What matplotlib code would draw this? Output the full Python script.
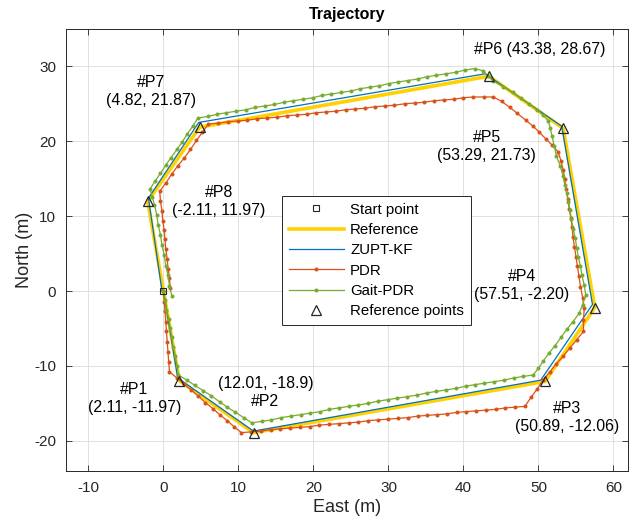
import matplotlib
matplotlib.use("Agg")
import matplotlib.pyplot as plt

plt.rcParams['font.family'] = ['Liberation Sans', 'DejaVu Sans']
plt.rcParams['axes.unicode_minus'] = False

# reference path (start -> P1 ... P8 -> start)
ref_x = [0.0, 2.11, 12.01, 50.89, 57.51, 53.29, 43.38, 4.82, -2.11, 0.0]
ref_y = [0.0, -11.97, -18.9, -12.06, -2.20, 21.73, 28.67, 21.87, 11.97, 0.0]

# ZUPT-KF estimate
zupt_x = [0.0, 1.9, 12.0, 50.3, 57.2, 53.1, 42.9, 4.7, -2.0, -0.2]
zupt_y = [0.0, -11.6, -18.7, -11.9, -1.8, 22.0, 29.0, 22.5, 12.4, 0.0]

# PDR steps
pdr_x = [0.0, 0.1, 0.2, 0.3, 0.4, 0.5, 0.6, 0.7, 0.8,
         1.8, 2.7, 3.7, 4.6, 5.6, 6.6, 7.5, 8.5, 9.4, 10.4,
         11.7, 13.0, 14.3, 15.6, 16.9, 18.2, 19.5, 20.8, 22.1, 23.4,
         24.7, 26.0, 27.3, 28.6, 30.0, 31.3, 32.6, 33.9, 35.2, 36.5,
         37.8, 39.1, 40.4, 41.7, 43.0, 44.3, 45.6, 46.9, 48.2,
         49.0, 49.8, 50.6,
         51.5, 52.4, 53.3, 54.2, 55.1, 56.0,
         56.0, 56.1,
         55.9, 55.6, 55.4,
         55.2, 55.0, 54.8, 54.6, 54.5, 54.3, 54.1, 53.9, 53.7, 53.5, 53.3,
         53.0, 52.6,
         51.8, 51.0, 50.1, 49.3,
         48.3, 47.2, 46.2, 45.1,
         44.0,
         42.7, 41.3,
         40.0, 38.7, 37.4, 36.1, 34.8, 33.5, 32.2, 30.8, 29.5, 28.2,
         26.9, 25.6, 24.3, 23.0, 21.7, 20.4, 19.1, 17.8, 16.5, 15.2,
         13.8, 12.5, 11.2, 9.9, 8.6, 7.3, 6.0,
         5.2, 4.4, 3.6, 2.8, 1.9, 1.1, 0.3, -0.5,
         -0.4, -0.2, -0.1, 0.1, 0.2, 0.3, 0.5, 0.6, 0.8, 0.9]
pdr_y = [0.0, -1.4, -2.7, -4.1, -5.4, -6.8, -8.1, -9.5, -10.8,
         -11.6, -12.4, -13.2, -14.0, -14.9, -15.7, -16.5, -17.3, -18.1, -18.9,
         -18.8, -18.7, -18.5, -18.4, -18.3, -18.2, -18.1, -17.9, -17.8, -17.7,
         -17.6, -17.5, -17.3, -17.2, -17.1, -17.0, -16.9, -16.7, -16.6, -16.5,
         -16.4, -16.2, -16.1, -16.0, -15.9, -15.8, -15.6, -15.5, -15.4,
         -14.2, -13.1, -11.9,
         -10.8, -9.7, -8.7, -7.6, -6.5, -5.4,
         -3.9, -2.3,
         -0.9, 0.6, 2.0,
         3.3, 4.6, 5.9, 7.2, 8.5, 9.8, 11.0, 12.3, 13.6, 14.9, 16.2,
         17.4, 18.6,
         19.5, 20.3, 21.2, 22.0,
         22.8, 23.7, 24.5, 25.3,
         25.9,
         25.9, 25.9,
         25.8, 25.6, 25.5, 25.4, 25.2, 25.1, 25.0, 24.8, 24.7, 24.6,
         24.4, 24.3, 24.2, 24.0, 23.9, 23.8, 23.6, 23.5, 23.4, 23.2,
         23.1, 23.0, 22.8, 22.7, 22.6, 22.4, 22.3,
         21.2, 20.1, 18.9, 17.8, 16.7, 15.6, 14.4, 13.3,
         12.0, 10.7, 9.4, 8.1, 6.9, 5.6, 4.3, 3.0, 1.7, 0.4]

# Gait-PDR steps
gait_x = [0.0, 0.2, 0.4, 0.7, 0.9, 1.1, 1.3, 1.6, 1.8, 2.0,
          3.1,
          4.2, 5.3, 6.4, 7.5, 8.5, 9.6, 10.7, 11.8,
          13.1, 14.4, 15.7, 17.0, 18.3, 19.6, 20.9, 22.1, 23.4, 24.7,
          26.0, 27.3, 28.6, 29.9, 31.2, 32.5, 33.8, 35.1, 36.4, 37.7,
          39.0, 40.3, 41.5, 42.8, 44.1, 45.4, 46.7, 48.0, 49.3,
          50.0, 50.6,
          51.4, 52.2, 53.0, 53.8, 54.6, 55.4,
          55.9, 56.3,
          56.1, 55.8, 55.6, 55.3,
          55.1, 54.9, 54.6, 54.4, 54.2,
          54.0, 53.8, 53.5, 53.3,
          52.9, 52.4,
          52.1, 51.8,
          51.6, 51.3,
          50.6, 49.8,
          48.7, 47.7, 46.6,
          45.3, 44.0,
          43.3, 42.6,
          41.5,
          40.2, 39.0, 37.7, 36.4, 35.1, 33.9, 32.6, 31.3, 30.1, 28.8,
          27.5, 26.2, 25.0, 23.7, 22.4, 21.1, 19.9, 18.6, 17.3, 16.1,
          14.8, 13.5, 12.2, 11.0, 9.7, 8.4, 7.2, 5.9, 4.6,
          3.9, 3.2, 2.5, 1.8, 1.0, 0.3, -0.4, -1.1, -1.8,
          -1.5, -1.2,
          -0.9, -0.7, -0.4, -0.2, 0.1, 0.3, 0.6, 0.8, 1.1]
gait_y = [0.0, -1.2, -2.5, -3.7, -5.0, -6.2, -7.5, -8.7, -10.0, -11.2,
          -11.9,
          -12.6, -13.3, -14.0, -14.8, -15.5, -16.2, -16.9, -17.6,
          -17.4, -17.2, -16.9, -16.7, -16.5, -16.3, -16.1, -15.8, -15.6, -15.4,
          -15.2, -15.0, -14.7, -14.5, -14.3, -14.1, -13.9, -13.6, -13.4, -13.2,
          -13.0, -12.7, -12.5, -12.3, -12.1, -11.9, -11.6, -11.4, -11.2,
          -10.3, -9.4,
          -8.3, -7.3, -6.2, -5.1, -4.1, -3.0,
          -1.8, -0.5,
          0.8, 2.1, 3.3, 4.6,
          5.8, 7.1, 8.3, 9.6, 10.8,
          11.9, 13.1, 14.2, 15.3,
          16.7, 18.0,
          19.4, 20.7,
          21.7, 22.7,
          23.5, 24.2,
          25.0, 25.7, 26.5,
          27.3, 28.0,
          28.7, 29.4,
          29.7,
          29.5, 29.2, 29.0, 28.8, 28.6, 28.3, 28.1, 27.9, 27.7, 27.4,
          27.2, 27.0, 26.7, 26.5, 26.3, 26.1, 25.8, 25.6, 25.4, 25.2,
          24.9, 24.7, 24.5, 24.2, 24.0, 23.8, 23.6, 23.3, 23.1,
          22.0, 21.0, 19.9, 18.9, 17.8, 16.8, 15.7, 14.7, 13.6,
          12.6, 11.5,
          10.2, 8.8, 7.5, 6.1, 4.8, 3.4, 2.1, 0.7, -0.6]

# reference points and their labels
pt_x = [2.11, 12.01, 50.89, 57.51, 53.29, 43.38, 4.82, -2.11]
pt_y = [-11.97, -18.9, -12.06, -2.20, 21.73, 28.67, 21.87, 11.97]
pt_labels = ['#P1\n(2.11, -11.97)', '(12.01, -18.9)\n#P2', '#P3\n(50.89, -12.06)',
             '#P4\n(57.51, -2.20)', '#P5\n(53.29, 21.73)', '#P6 (43.38, 28.67)',
             '#P7\n(4.82, 21.87)', '#P8\n(-2.11, 11.97)']
label_x = [-3.9, 13.6, 53.8, 47.8, 43.1, 50.2, -1.7, 7.4]
label_y = [-14.3, -13.5, -16.9, 0.7, 19.3, 32.3, 26.6, 11.95]

dark = '#262626'

fig = plt.figure(figsize=(6.32, 5.24), dpi=100)
ax = fig.add_axes([0.1044, 0.1015, 0.890, 0.8435])

ax.plot([0], [0], 's', color=dark, mfc='none', ms=5, mew=0.8, label='Start point', zorder=6)
ax.plot(ref_x, ref_y, color='#FFD100', lw=2.6, label='Reference', zorder=2)
ax.plot(zupt_x, zupt_y, color='#0072BD', lw=0.9, label='ZUPT-KF', zorder=3)
ax.plot(pdr_x, pdr_y, color='#D95319', lw=0.9, marker='o', ms=2.9, mew=0, label='PDR', zorder=4)
ax.plot(gait_x, gait_y, color='#77AC30', lw=0.9, marker='o', ms=2.9, mew=0, label='Gait-PDR', zorder=5)
ax.plot(pt_x, pt_y, '^', color=dark, mfc='none', ms=7.5, mew=0.9, linestyle='none',
        label='Reference points', zorder=7)

for lx, ly, txt in zip(label_x, label_y, pt_labels):
    ax.text(lx, ly, txt, ha='center', va='center', fontsize=11.4, color='black',
            linespacing=1.25)

ax.set_xlim(-13, 62)
ax.set_ylim(-24, 35)
ax.set_xticks([-10, 0, 10, 20, 30, 40, 50, 60])
ax.set_yticks([-20, -10, 0, 10, 20, 30])
ax.grid(True, color='#dcdcdc', lw=0.6)
ax.set_axisbelow(True)
for s in ax.spines.values():
    s.set_color(dark)
    s.set_linewidth(0.7)
ax.tick_params(direction='in', top=True, right=True, length=4, width=0.6,
               colors=dark, labelsize=11, pad=7)

ax.set_title('Trajectory', fontsize=11.5, fontweight='bold', pad=7)
ax.set_xlabel('East (m)', fontsize=13, color=dark, labelpad=3)
ax.set_ylabel('North (m)', fontsize=13, color=dark, labelpad=1)

leg = ax.legend(loc='upper left', bbox_to_anchor=(0.384, 0.622), borderaxespad=0,
                fontsize=10.8, fancybox=False, framealpha=1, edgecolor=dark,
                handlelength=3.7, handletextpad=0.4, labelspacing=0.42, borderpad=0.45)
leg.get_frame().set_linewidth(0.7)

fig.savefig('out.png', dpi=100)
